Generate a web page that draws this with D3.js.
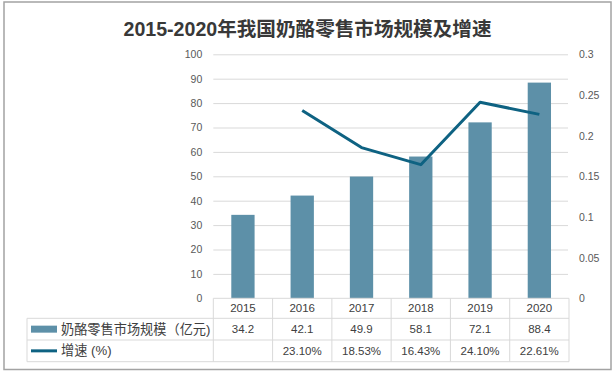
<!DOCTYPE html>
<html>
<head>
<meta charset="utf-8">
<script src="https://cdn.jsdelivr.net/npm/d3@7"></script>
<style>
  html, body { margin: 0; padding: 0; background: #fff; }
  svg { display: block; }
  .ax text { font-family: "Liberation Sans", Arial, sans-serif; font-size: 10.5px; fill: #595959; }
  .tbl text { font-family: "Liberation Sans", "Noto Sans CJK SC", sans-serif; font-size: 11.5px; fill: #404040; }
  .tbl text.name { font-size: 13.2px; }
</style>
</head>
<body>
<div id="chart"></div>
<script>
// chart data
const years = ["2015", "2016", "2017", "2018", "2019", "2020"];
const marketSize = [34.2, 42.1, 49.9, 58.1, 72.1, 88.4];          // 亿元
const growthRate = [null, 0.2310, 0.1853, 0.1643, 0.2410, 0.2261];  // 增速
const leftTicks = [0, 10, 20, 30, 40, 50, 60, 70, 80, 90, 100];
const rightTicks = [0, 0.05, 0.1, 0.15, 0.2, 0.25, 0.3];
const seriesNames = ["奶酪零售市场规模（亿元)", "增速 (%)"];
const title = "2015-2020年我国奶酪零售市场规模及增速";

const W = 615, H = 372;
const barColor = "#5d90a8", lineColor = "#0e6282", gridColor = "#d9d9d9";

// plot frame (the table hangs below the baseline)
const plot = { left: 213.3, right: 569, top: 54.3, bottom: 298.3 };
const rowY = [298.3, 318.3, 340, 361.7];
const tableLeft = 27;

const svg = d3.select("#chart").append("svg")
  .attr("width", W).attr("height", H);

svg.append("rect")
  .attr("x", 4).attr("y", 2).attr("width", 607).attr("height", 367.5)
  .attr("fill", "#fff").attr("stroke", "#a3a3a3").attr("stroke-width", 1.5);

svg.append("text")
  .attr("x", 307.5).attr("y", 29)
  .attr("text-anchor", "middle").attr("dominant-baseline", "central")
  .attr("font-family", "'Liberation Sans', 'Noto Sans CJK SC', sans-serif")
  .attr("font-size", 19.6).attr("font-weight", "bold").attr("fill", "#383838")
  .text(title);

const x = d3.scaleBand().domain(years).range([plot.left, plot.right]).padding(0);
const yL = d3.scaleLinear().domain([0, 100]).range([plot.bottom, plot.top]);
const yR = d3.scaleLinear().domain([0, 0.3]).range([plot.bottom, plot.top]);
const barW = x.bandwidth() * 0.393;

// gridlines + left labels
const gl = svg.append("g").attr("class", "ax")
  .attr("transform", `translate(${plot.left},0)`)
  .call(d3.axisLeft(yL).tickValues(leftTicks).tickSize(-(plot.right - plot.left - 1)).tickPadding(11).tickFormat(d3.format("d")));
gl.select(".domain").remove();
gl.selectAll(".tick line").attr("stroke", gridColor)
  .attr("x1", 0).attr("x2", plot.right - plot.left - 1)
  .attr("display", d => d === 0 ? "none" : null);

// right labels
const gr = svg.append("g").attr("class", "ax")
  .attr("transform", `translate(${plot.right},0)`)
  .call(d3.axisRight(yR).tickValues(rightTicks).tickSize(0).tickPadding(10).tickFormat(d => String(d)));
gr.select(".domain").remove();

// bars
svg.append("g").selectAll("rect").data(marketSize).join("rect")
  .attr("x", (d, i) => x(years[i]) + (x.bandwidth() - barW) / 2)
  .attr("width", barW)
  .attr("y", d => yL(d))
  .attr("height", d => yL(0) - yL(d))
  .attr("fill", barColor);

// growth line
const line = d3.line()
  .defined(d => d != null)
  .x((d, i) => x(years[i]) + x.bandwidth() / 2)
  .y(d => yR(d));
svg.append("path").datum(growthRate)
  .attr("d", line)
  .attr("fill", "none").attr("stroke", lineColor).attr("stroke-width", 3)
  .attr("stroke-linejoin", "round");

// data table
const tbl = svg.append("g").attr("class", "tbl");
const gridAttr = s => s.attr("stroke", gridColor).attr("stroke-width", 1).attr("fill", "none");

// horizontal rules
tbl.append("line").attr("x1", plot.left).attr("x2", plot.right).attr("y1", rowY[0]).attr("y2", rowY[0]).call(gridAttr);
rowY.slice(1).forEach(yy => {
  tbl.append("line").attr("x1", tableLeft).attr("x2", plot.right).attr("y1", yy).attr("y2", yy).call(gridAttr);
});
// vertical rules
tbl.append("line").attr("x1", tableLeft).attr("x2", tableLeft).attr("y1", rowY[1]).attr("y2", rowY[3]).call(gridAttr);
years.forEach(yr => {
  tbl.append("line").attr("x1", x(yr)).attr("x2", x(yr)).attr("y1", rowY[0]).attr("y2", rowY[3]).call(gridAttr);
});
tbl.append("line").attr("x1", plot.right).attr("x2", plot.right).attr("y1", rowY[0]).attr("y2", rowY[3]).call(gridAttr);

const mid = i => (rowY[i] + rowY[i + 1]) / 2;
const cx = yr => x(yr) + x.bandwidth() / 2;

tbl.selectAll("text.yr").data(years).join("text").attr("class", "yr")
  .attr("x", d => cx(d)).attr("y", mid(0)).attr("text-anchor", "middle").attr("dominant-baseline", "central")
  .text(d => d);
tbl.selectAll("text.v1").data(marketSize).join("text").attr("class", "v1")
  .attr("x", (d, i) => cx(years[i])).attr("y", mid(1)).attr("text-anchor", "middle").attr("dominant-baseline", "central")
  .text(d => d3.format(".1f")(d));
tbl.selectAll("text.v2").data(growthRate).join("text").attr("class", "v2")
  .attr("x", (d, i) => cx(years[i])).attr("y", mid(2)).attr("text-anchor", "middle").attr("dominant-baseline", "central")
  .text(d => d == null ? "" : d3.format(".2%")(d));

// legend keys in the table's first column
tbl.append("rect").attr("x", 31).attr("y", mid(1) - 3.5).attr("width", 26).attr("height", 7).attr("fill", barColor);
tbl.append("line").attr("x1", 31).attr("x2", 57).attr("y1", mid(2)).attr("y2", mid(2))
  .attr("stroke", lineColor).attr("stroke-width", 3);
tbl.selectAll("text.name").data(seriesNames).join("text").attr("class", "name")
  .attr("x", 61).attr("y", (d, i) => mid(i + 1)).attr("dominant-baseline", "central")
  .text(d => d);
</script>
</body>
</html>
